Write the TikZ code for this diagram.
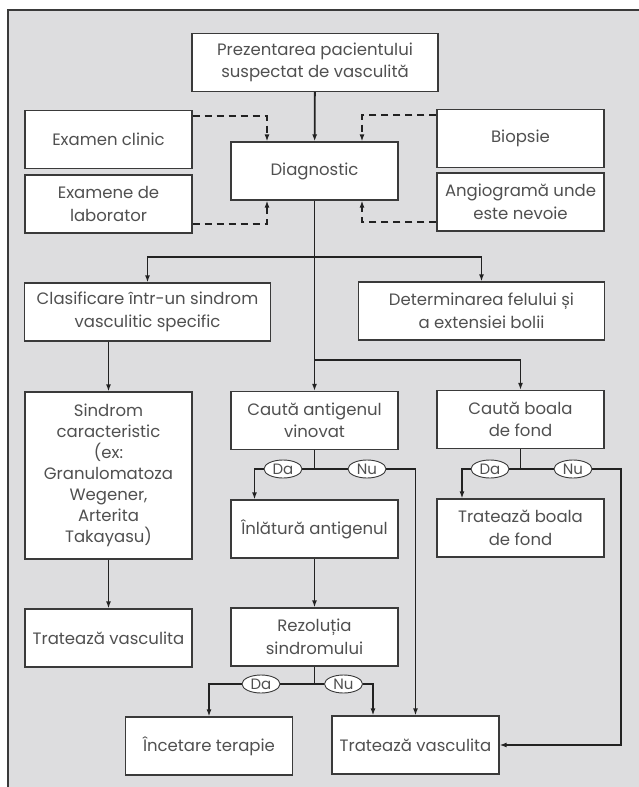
\documentclass[tikz,border=0pt]{standalone}
\usepackage{fontspec}
\setmainfont{Poppins}
\usetikzlibrary{arrows.meta,shapes.geometric}

\definecolor{fundal}{HTML}{DDDDDF}
\definecolor{chenar}{HTML}{3A3A3A}
\definecolor{linie}{HTML}{222222}
\definecolor{scris}{HTML}{505050}

\begin{document}
\begin{tikzpicture}[
    x=1pt, y=-1pt,
    >={Latex[length=7pt,width=5pt]},
    every node/.style={font=\fontsize{16.5}{22.5}\selectfont, text=scris},
    casuta/.style={
        draw=chenar, line width=1.3pt, fill=white,
        minimum width=167pt, minimum height=58pt,
        align=center, inner sep=2pt
    },
    lata/.style={casuta, minimum width=246pt},
    oval/.style={
        ellipse, draw=chenar, line width=0.9pt, fill=white,
        minimum width=38pt, minimum height=18pt, inner sep=0pt,
        font=\fontsize{15}{16}\selectfont
    },
    leg/.style={draw=linie, line width=1.8pt},
    sag/.style={leg, ->},
    intrer/.style={leg, ->, dash pattern=on 7pt off 5pt}
]

\useasboundingbox (0,0) rectangle (639,787);

% ----------------------------------------------------------
% Fundal gri cu chenar doar sus si in stanga
% ----------------------------------------------------------
\fill[fundal] (8,10) rectangle (639,787);
\draw[chenar, line width=1.6pt] (8,787) -- (8,10) -- (639,10);

% ----------------------------------------------------------
% Partea de sus: prezentare, diagnostic si investigatii
% ----------------------------------------------------------
\node[lata]   (prez)   at (315, 62.5)   {Prezentarea pacientului\\suspectat de vasculită};
\node[casuta] (clinic) at (108.5, 139.5) {Examen clinic};
\node[casuta] (lab)    at (108.5, 204)   {Examene de\\laborator};
\node[casuta] (diag)   at (314.5, 171)   {Diagnostic};
\node[casuta] (biop)   at (520.5, 138.5) {Biopsie};
\node[casuta] (angio)  at (520.5, 202)   {Angiogramă unde\\este nevoie};

% ----------------------------------------------------------
% Ramificari dupa diagnostic
% ----------------------------------------------------------
\node[lata]   (clasif)  at (147.5, 312)   {Clasificare într-un sindrom\\vasculitic specific};
\node[lata]   (determ)  at (481.5, 311)   {Determinarea felului și\\a extensiei bolii};
\node[casuta, minimum height=167pt, font=\fontsize{16.5}{21}\selectfont] (sindrom) at (108.5, 475.5)
    {Sindrom\\caracteristic\\(ex:\\Granulomatoza\\Wegener,\\Arterita\\Takayasu)};
\node[casuta] (antigen) at (314.5, 420.5) {Caută antigenul\\vinovat};
\node[casuta] (boala)   at (520.5, 419.5) {Caută boala\\de fond};

\node[casuta] (inlat)   at (314.5, 529)   {Înlătură antigenul};
\node[casuta] (tratb)   at (520.5, 528)   {Tratează boala\\de fond};
\node[casuta] (tratv1)  at (108.5, 638)   {Tratează vasculita};
\node[casuta] (rezol)   at (314.5, 637)   {Rezoluția\\sindromului};
\node[casuta] (incet)   at (209, 746)     {Încetare terapie};
\node[casuta] (tratv2)  at (415.5, 745)   {Tratează vasculita};

% raspunsuri Da / Nu
\node[oval] (da1) at (283, 469)   {Da};
\node[oval] (nu1) at (367, 469)   {Nu};
\node[oval] (da2) at (490, 469)   {Da};
\node[oval] (nu2) at (573, 469)   {Nu};
\node[oval] (da3) at (261, 684)   {Da};
\node[oval] (nu3) at (343.5, 684) {Nu};

% puncte de ramificare
\coordinate (r1) at (314.5, 257);
\coordinate (r2) at (314.5, 360);
\coordinate (j1) at (antigen.south |- da1);
\coordinate (j2) at (boala.south |- da2);
\coordinate (j3) at (rezol.south |- da3);
\coordinate (ret) at (621, 745);

% investigatii -> diagnostic (intrerupt)
\draw[intrer] ([yshift=-6pt]clinic.north east) -| ([xshift=-47.5pt]diag.north);
\draw[intrer] ([yshift=10pt]lab.south east)    -| ([xshift=-47.5pt]diag.south);
\draw[intrer] ([yshift=-6pt]biop.north west)   -| ([xshift=47.5pt]diag.north);
\draw[intrer] ([yshift=10pt]angio.south west)  -| ([xshift=47.5pt]diag.south);

% fluxul principal
\draw[sag] (prez) -- (diag);
\draw[sag] (diag) -- (antigen);
\draw[sag] (r1) -| (clasif.north);
\draw[sag] (r1) -| (determ.north);
\draw[sag] (r2) -| (boala.north);
\draw[sag] (clasif.south -| sindrom.north) -- (sindrom.north);
\draw[sag] (sindrom) -- (tratv1);

% antigen: Da / Nu
\draw[leg] (antigen) -- (j1);
\draw[leg] (j1) -- (da1);
\draw[leg] (j1) -- (nu1);
\draw[sag] (da1) -| ([xshift=-60pt]inlat.north);
\draw[sag] (nu1) -| (tratv2.north);
\draw[sag] (inlat) -- (rezol);

% boala de fond: Da / Nu
\draw[leg] (boala) -- (j2);
\draw[leg] (j2) -- (da2);
\draw[leg] (j2) -- (nu2);
\draw[sag] (da2) -| ([xshift=-58.5pt]tratb.north);
\draw[sag] (nu2) -| (ret) -- (tratv2.east);

% rezolutia: Da / Nu
\draw[leg] (rezol) -- (j3);
\draw[leg] (j3) -- (da3);
\draw[leg] (j3) -- (nu3);
\draw[sag] (da3) -| (incet.north);
\draw[sag] (nu3) -| ([xshift=-42.5pt]tratv2.north);

\end{tikzpicture}
\end{document}
